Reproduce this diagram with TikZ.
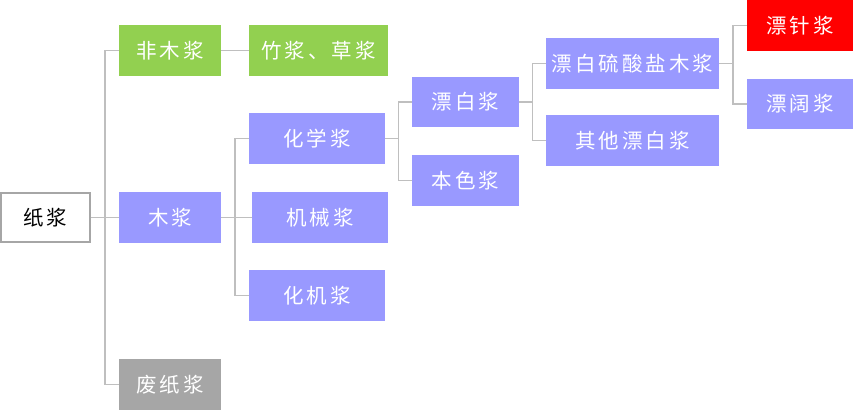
\documentclass[tikz,border=0pt]{standalone}
\usepackage{fontspec}
\newfontfamily\cjk{Noto Sans CJK SC}
\usetikzlibrary{calc}
\definecolor{gr}{HTML}{92D050}
\definecolor{pu}{HTML}{9999FF}
\definecolor{gy}{HTML}{A6A6A6}
\definecolor{rd}{HTML}{FF0000}
\definecolor{ln}{HTML}{BFBFBF}
\newcommand\g{\kern3pt}
\tikzset{
  box/.style={rectangle,inner sep=0pt,minimum height=51pt,text=white,font=\cjk\fontsize{20.5}{20.5}\selectfont},
  gbox/.style={box,fill=gr},
  pbox/.style={box,fill=pu},
  graybox/.style={box,fill=gy},
  rbox/.style={box,fill=rd},
  rootbox/.style={box,draw=gy,line width=1.8pt,fill=white,text=black},
  conn/.style={draw=ln,line width=1.4pt}
}
\begin{document}
\begin{tikzpicture}[x=1pt,y=-1pt]
\useasboundingbox (0,0) rectangle (853,413);
\node[rootbox,minimum width=89pt,minimum height=49pt] (zj) at (45.5,217.5) {纸\g 浆};
\node[gbox,minimum width=102pt] (fmj) at (170,50.5) {非\g 木\g 浆};
\node[gbox,minimum width=139pt] (zcj) at (318.5,50.5) {竹\g 浆\g 、\g 草\g 浆};
\node[pbox,minimum width=102pt] (mj) at (170,217.5) {木\g 浆};
\node[graybox,minimum width=102pt] (fzj) at (170,384.5) {废\g 纸\g 浆};
\node[pbox,minimum width=136pt] (hxj) at (317,138.5) {化\g 学\g 浆};
\node[pbox,minimum width=136pt] (jxj) at (320,217.5) {机\g 械\g 浆};
\node[pbox,minimum width=136pt] (hjj) at (317,295.5) {化\g 机\g 浆};
\node[pbox,minimum width=107pt,minimum height=50pt] (pbj) at (465.5,102) {漂\g 白\g 浆};
\node[pbox,minimum width=107pt] (bsj) at (465.5,180.5) {本\g 色\g 浆};
\node[pbox,minimum width=173pt] (plj) at (632.5,63.5) {漂\g 白\g 硫\g 酸\g 盐\g 木\g 浆};
\node[pbox,minimum width=173pt] (qtj) at (632.5,140.5) {其\g 他\g 漂\g 白\g 浆};
\node[rbox,minimum width=106pt] (pzj) at (800,25.5) {漂\g 针\g 浆};
\node[pbox,minimum width=106pt,minimum height=50pt] (pkj) at (800,104) {漂\g 阔\g 浆};
% connectors
\draw[conn] (zj.east) -- ($(zj.east)!.5!(mj.west)$) coordinate (t1) -- (mj.west);
\draw[conn] (t1) |- (fmj.west);
\draw[conn] (t1) |- (fzj.west);
\draw[conn] (fmj.east) -- (zcj.west);
\draw[conn] (mj.east) -- ($(mj.east)!.5!(hxj.west |- mj.east)$) coordinate (t2) -- (jxj.west);
\draw[conn] (t2) |- (hxj.west);
\draw[conn] (t2) |- (hjj.west);
\draw[conn] (hxj.east) -- ($(hxj.east)!.5!(pbj.west |- hxj.east)$) coordinate (t3);
\draw[conn] (t3) |- (pbj.west);
\draw[conn] (t3) |- (bsj.west);
\draw[conn] (pbj.east) -- ($(pbj.east)!.5!(plj.west |- pbj.east)$) coordinate (t4);
\draw[conn] (t4) |- (plj.west);
\draw[conn] (t4) |- (qtj.west);
\draw[conn] (plj.east) -- ($(plj.east)!.5!(pzj.west |- plj.east)$) coordinate (t5);
\draw[conn] (t5) |- (pzj.west);
\draw[conn] (t5) |- (pkj.west);
\end{tikzpicture}
\end{document}
